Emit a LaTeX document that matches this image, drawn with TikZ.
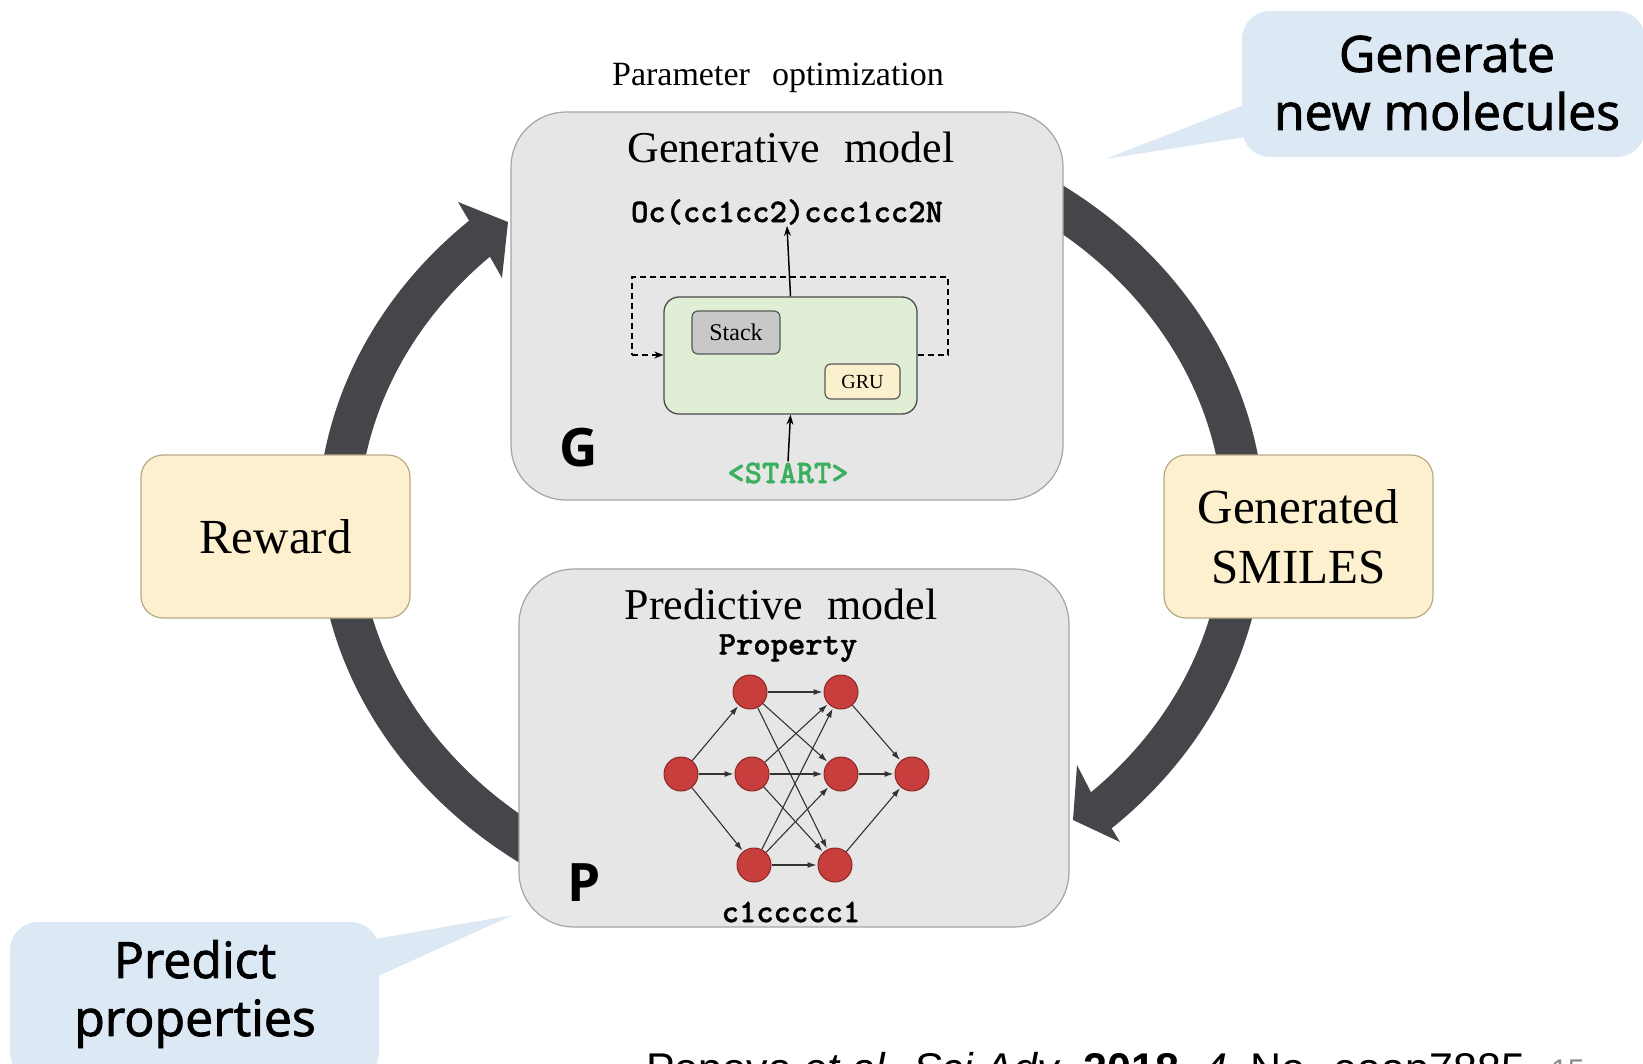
\documentclass[tikz,border=0pt]{standalone}
\usepackage{fontspec}
\setmainfont{Liberation Serif}
\newfontfamily\callfont[FakeBold=1.8]{Open Sans}
\newfontfamily\labfont{Open Sans}
\newfontfamily\citefont{Liberation Sans}
% bold typewriter face for SMILES strings
\newfontfamily\codeface[FakeBold=1.2]{lmmonolt10-bold.otf}
\usetikzlibrary{arrows.meta,calc}

\definecolor{calloutblue}{RGB}{221,232,245}
\definecolor{panelgray}{RGB}{230,230,230}
\definecolor{paneledge}{RGB}{165,165,165}
\definecolor{cream}{RGB}{252,240,206}
\definecolor{creamedge}{RGB}{185,170,135}
\definecolor{cellgreen}{RGB}{223,238,212}
\definecolor{stackgray}{RGB}{200,200,200}
\definecolor{grucream}{RGB}{251,240,205}
\definecolor{neuron}{RGB}{200,62,60}
\definecolor{neuronedge}{RGB}{140,40,40}
\definecolor{loopgray}{RGB}{70,70,74}
\definecolor{startgreen}{RGB}{60,175,95}

\begin{document}
\begin{tikzpicture}[x=1pt,y=-1pt,
  panel/.style={draw=paneledge, fill=panelgray, rounded corners=55pt, line width=1.2pt, inner sep=0pt},
  tagbox/.style={draw=creamedge, fill=cream, rounded corners=22pt, line width=1.2pt, align=center,
    inner sep=0pt, font=\fontsize{49}{60}\selectfont},
  cellbox/.style={draw=black!70, fill=cellgreen, rounded corners=15pt, line width=1.3pt, inner sep=0pt},
  part/.style={draw=black!65, rounded corners=6pt, line width=1.2pt, inner sep=0pt},
  neuronnode/.style={circle, fill=neuron, draw=neuronedge, line width=1pt, minimum size=34pt, inner sep=0pt},
  synapse/.style={-{Latex[length=9pt,width=6pt]}, line width=1.1pt, draw=black!80, shorten >=1pt},
  flow/.style={-{Stealth[length=10pt,width=7pt]}, line width=1.5pt},
  loopline/.style={dash pattern=on 6pt off 4pt, line width=1.5pt},
  bigarc/.style={draw=loopgray, line width=41pt, line cap=butt},
  bighead/.style={fill=loopgray},
  bubble/.style={fill=calloutblue, rounded corners=28pt, inner sep=0pt},
  calltext/.style={font=\callfont\fontsize{50}{58}\selectfont, align=center},
  title/.style={font=\fontsize{44}{50}\selectfont, inner sep=1pt},
  smiles/.style={font=\codeface\fontsize{33}{38}\selectfont, inner sep=1pt},
  letter/.style={font=\labfont\bfseries\fontsize{53}{60}\selectfont}
]
\useasboundingbox (0,0) rectangle (1643,1064);
\begin{scope}
\clip (0,0) rectangle (1643,1064);

% the reinforcement loop: two thick elliptic arcs behind the panels
\draw[bigarc] plot[domain=0:1, samples=90, smooth]
  ({791+453*cos(235-103*\x)},{524-393*sin(235-103*\x)});
\coordinate (hlo) at (458,202);
\coordinate (hltip) at (508,222);
\coordinate (hli) at (502,278);
\coordinate (hlnotch) at (481,241);
\fill[bighead] (hlo) -- (hltip) -- (hli) -- (hlnotch) -- cycle;

\draw[bigarc] plot[domain=0:1, samples=90, smooth]
  ({791+453*cos(55-103*\x)},{524-393*sin(55-103*\x)});
\coordinate (hro) at (1120,842);
\coordinate (hrtip) at (1073,820);
\coordinate (hri) at (1077,765);
\coordinate (hrnotch) at (1097,804);
\fill[bighead] (hro) -- (hrtip) -- (hri) -- (hrnotch) -- cycle;

% generative model panel
\node[panel, minimum width=552pt, minimum height=388pt] (gen) at (787,306) {};
\node[font=\fontsize{34}{38}\selectfont] (param) at (778,78) {Parameter\hspace{0.4em} optimization};
\node[title] (gentitle) at (791,147) {Generative\hspace{0.3em} model};
\node[smiles] (genout) at (787,212) {Oc(cc1cc2)ccc1cc2N};
\node[cellbox, minimum width=253pt, minimum height=117pt] (cell) at (790.5,355.5) {};
\node[part, fill=stackgray, minimum width=88pt, minimum height=43pt,
      font=\fontsize{24}{28}\selectfont] (stack) at (736,332.5) {Stack};
\node[part, fill=grucream, minimum width=75pt, minimum height=35pt,
      font=\fontsize{20}{24}\selectfont] (gru) at (862.5,381.5) {GRU};
\node[smiles, text=startgreen] (start) at (788,473) {<START>};
\node[letter] (glabel) at (579,448) {G};

% recurrent loop around the cell
\coordinate (lr) at (948,355);
\coordinate (ur) at (948,277);
\coordinate (ul) at (632,277);
\coordinate (ll) at (632,355);
\draw[loopline] (cell.east |- lr) -- (lr) -- (ur) -- (ul) -- (ll);
\draw[loopline, -{Stealth[length=9pt,width=7pt]}] (ll) -- (cell.west |- ll);
\draw[flow] (cell.north) -- (genout.south);
\draw[flow] (start.north) -- (cell.south);

% predictive model panel
\node[panel, minimum width=550pt, minimum height=358pt] (pred) at (794,748) {};
\node[title] (predtitle) at (781,604) {Predictive\hspace{0.3em} model};
\node[smiles] (prop) at (788,648) {Property};
\node[smiles] (inmol) at (791,912) {c1ccccc1};
\node[letter] (plabel) at (584,883) {P};

\node[neuronnode] (in) at (681,774) {};
\node[neuronnode] (a1) at (750,692) {};
\node[neuronnode] (a2) at (752,774) {};
\node[neuronnode] (a3) at (754,865) {};
\node[neuronnode] (b1) at (841,692) {};
\node[neuronnode] (b2) at (841,774) {};
\node[neuronnode] (b3) at (835,865) {};
\node[neuronnode] (out) at (912,774) {};
\foreach \h in {a1,a2,a3} \draw[synapse] (in) -- (\h);
\foreach \h in {a1,a2,a3} \foreach \k in {b1,b2,b3} \draw[synapse] (\h) -- (\k);
\foreach \k in {b1,b2,b3} \draw[synapse] (\k) -- (out);

% side tags on the loop
\node[tagbox, minimum width=269pt, minimum height=163pt] (reward) at (275.5,536.5) {Reward};
\node[tagbox, minimum width=269pt, minimum height=163pt] (gensmiles) at (1298.5,536.5) {Generated\\SMILES};

% callouts
\node[bubble, minimum width=403pt, minimum height=146pt] (gencall) at (1443.5,84) {};
\fill[calloutblue] ($(gencall.west)+(10,18)$) -- (1105,159) -- ($(gencall.west)+(10,52)$) -- cycle;
\node[calltext] (gencalltext) at (1447,83) {Generate\\new molecules};

\node[bubble, minimum width=369pt, minimum height=158pt] (predcall) at (194.5,1001) {};
\fill[calloutblue] ($(predcall.east)+(-10,-61)$) -- (513,915) -- ($(predcall.east)+(-10,-21)$) -- cycle;
\node[calltext] (predcalltext) at (195,994) {Predict\\properties};

% reference line along the lower edge
\node[anchor=base west, inner sep=0pt, font=\citefont\fontsize{43}{46}\selectfont] (cite) at (646,1083)
  {Popova \textit{et al.} \textit{Sci Adv.} \textbf{2018}, \textit{4}, No. eaap7885};
\node[anchor=base west, inner sep=0pt, text=black!45, font=\citefont\fontsize{30}{34}\selectfont] (page) at (1551,1080) {15};
\end{scope}
\end{tikzpicture}
\end{document}
